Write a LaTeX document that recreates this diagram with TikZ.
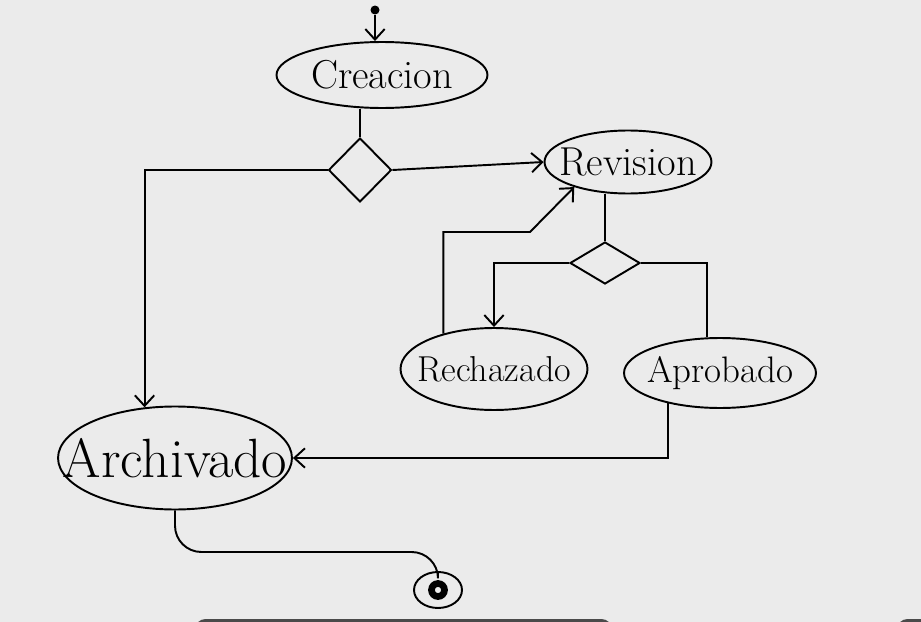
\documentclass[tikz,border=0pt]{standalone}
\usetikzlibrary{shapes.geometric,arrows.meta}
\definecolor{paper}{HTML}{EBEBEB}
\definecolor{bar}{HTML}{4A4A4A}
\begin{document}
\begin{tikzpicture}[x=0.02cm,y=-0.02cm,line width=1.1pt,
    state/.style={ellipse,draw,inner sep=0pt},
    choice/.style={diamond,draw,inner sep=0pt},
    arr/.style={-{Straight Barb[length=6pt,width=11pt]}}]
    \fill[paper] (0,0) rectangle (921,622);
    \useasboundingbox (0,0) rectangle (921,622);
    % window bars at the lower edge
    \fill[bar,rounded corners=6pt] (195,619) rectangle (612,650);
    \fill[bar,rounded corners=6pt] (897,619) rectangle (960,650);

    \node[circle,fill,inner sep=0pt,minimum size=0.18cm] (inicio) at (375,10) {};
    \node[state,minimum width=4.22cm,minimum height=1.32cm,
        label={[font=\fontsize{23}{25}\selectfont]center:Creacion}] (creacion) at (382,75) {};
    \node[choice,minimum width=1.26cm,minimum height=1.28cm] (d1) at (360,170) {};
    \node[state,minimum width=3.34cm,minimum height=1.26cm,
        label={[font=\fontsize{23}{25}\selectfont]center:Revision}] (revision) at (628,162) {};
    \node[choice,minimum width=1.4cm,minimum height=0.84cm] (d2) at (605,263) {};
    \node[state,minimum width=3.74cm,minimum height=1.64cm,
        label={[font=\fontsize{20.5}{23}\selectfont]center:Rechazado}] (rechazado) at (494,369) {};
    \node[state,minimum width=3.84cm,minimum height=1.4cm,
        label={[font=\fontsize{21}{23}\selectfont]center:Aprobado}] (aprobado) at (720,373) {};
    \node[state,minimum width=4.68cm,minimum height=2.06cm,
        label={[font=\fontsize{31.5}{33}\selectfont]center:Archivado}] (archivado) at (175,458) {};
    \node[state,minimum width=0.96cm,minimum height=0.72cm] (fin) at (438,590) {};
    \draw[line width=3.8pt] (fin.center) circle (6.5);

    \draw[arr] (inicio) -- (inicio |- creacion.north);
    \draw (creacion.south -| d1.north) -- (d1.north);
    \draw[arr] (d1.west) -| (archivado.121);
    \draw[arr] (d1.east) -- (revision.west);
    \draw (revision.south -| d2.north) -- (d2.north);
    \draw[arr] (d2.west) -| (rechazado.north);
    \draw (d2.east) -| (aprobado.110);
    \coordinate (k1) at (530,232);
    \draw[arr] (rechazado.145) |- (k1) -- (revision.205);
    \draw[arr] (aprobado.210) |- (archivado.east);
    \coordinate (k2) at (300,552);
    \draw[rounded corners=15pt] (archivado.south) |- (k2) -| (fin.north);
\end{tikzpicture}
\end{document}
